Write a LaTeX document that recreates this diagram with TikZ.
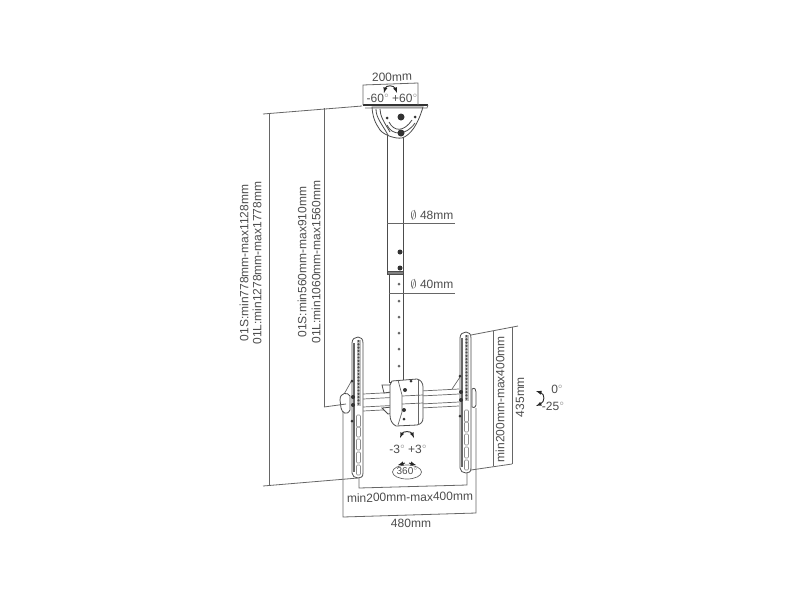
\documentclass[tikz,border=0pt]{standalone}
\usepackage{fontspec}
\setmainfont{Liberation Sans}
\newcommand{\dg}{\textcolor{black!35}{°}}
\begin{document}
\begin{tikzpicture}[x=1pt, y=-1pt]
	\tikzset{
		trait/.style={draw=black!60, line width=0.7pt},
		cote/.style={draw=black!60, line width=0.8pt},
		piece/.style={draw=black!70, line width=0.8pt, fill=white},
		trou/.style={circle, fill=black!80, inner sep=0pt},
		etiq/.style={text=black!70, font=\fontsize{12}{12}\selectfont, inner sep=0pt},
		vert/.style={etiq, rotate=90},
		fleche/.style={draw=black!85, line width=0.9pt, >=latex, ->}
	}
	\useasboundingbox (0,0) rectangle (800,600);

	% tubes
	\draw[piece] (389,272) rectangle (403,382);
	\draw[piece] (387,125) rectangle (403,272);
	\draw[draw=black!70, fill=black!50] (387,271) rectangle (403,274);
	\node[trou, minimum size=5pt] (p1) at (400,252) {};
	\node[trou, minimum size=5pt] (p2) at (400,268) {};
	\foreach \y in {284,301,317,333,349,366}
		\node[trou, fill=black!60, minimum size=3pt] at (399,\y) {};

	% ceiling plate
	\draw[piece] (372,107) .. controls (373,122) and (378,126) .. (380,130)
		.. controls (384,135) and (395,139) .. (402,138)
		.. controls (411,135) and (418,124) .. (423,107) -- cycle;
	\draw[piece] (376,109) .. controls (376,118) and (382,124) .. (388,135);
	\draw[piece] (380,109) .. controls (380,116) and (384,122) .. (390,132);
	\draw[draw=black!70, line width=0.8pt] (387,125) .. controls (392,136) and (406,136) .. (415,123);
	\draw[draw=black!70, line width=0.8pt] (389,122) .. controls (394,132) and (404,132) .. (412,120);
	\draw[draw=black!80, line width=1.3pt] (363,105) -- (428,105);
	\draw[trait] (365,108) -- (427,108) -- (428,105);
	\node[trou, minimum size=7pt] (axe1) at (401,117) {};
	\node[trou, minimum size=7pt] (axe2) at (401,133) {};
	\node[trou, minimum size=3pt] at (387,118) {};
	\node[trou, minimum size=3pt] at (415,117) {};

	% cross bar
	\draw[trait] (363,394) -- (459,389);
	\draw[trait] (363,399) -- (459,394);
	\draw[trait] (363,407) -- (459,402);
	\draw[trait] (363,411) -- (459,406);

	% tilt brackets
	\draw[trait] (343,396) -- (352,380);
	\draw[trait] (452,389) -- (460,377);
	\draw[piece] (340,400) .. controls (340,392) and (348,392) .. (350,396)
		-- (350,410) .. controls (347,416) and (342,413) .. (341,408) -- cycle;
	\draw[piece] (472,389) .. controls (475,387) and (476,390) .. (476,392)
		-- (476,405) .. controls (475,408) and (473,408) .. (472,407) -- cycle;

	% vertical bars
	\foreach \dx/\dy in {0/0,108/-5} {
		\begin{scope}[shift={(\dx,\dy)}]
			\draw[piece] (352,343) .. controls (352,339) and (355,337) .. (358,337)
				.. controls (361,337) and (363,339) .. (363,343)
				-- (363,473) .. controls (363,477) and (361,478) .. (358,478)
				.. controls (355,478) and (352,476) .. (352,473) -- cycle;
			\fill[black!60] (352.5,343) rectangle (355,472);
			\fill[black!25] (356.5,340) rectangle (360.5,406);
			\foreach \n in {0,...,19}
				\fill[black!70] (358.5,{341+\n*3.3}) circle (1.2pt);
			\foreach \y/\z in {415/427,427/437,439/450,452/463,465/475}
				\draw[draw=black!45, line width=0.6pt, rounded corners=1pt] (356.5,\y) rectangle (360.5,\z);
			\node[trou, minimum size=3pt] at (352,381) {};
			\node[trou, minimum size=4pt] at (353,397) {};
			\node[trou, minimum size=4pt] at (353,405) {};
			\node[trou, minimum size=3pt] at (352,421) {};
		\end{scope}
	}

	% centre clamp
	\draw[piece] (382,385) -- (391,385) -- (391,392) -- (384,393) -- cycle;
	\draw[piece] (382,408) -- (392,407) -- (394,413) -- (388,414) -- cycle;
	\draw[piece] (392,381) -- (417,379) .. controls (421,380) and (423,383) .. (423,387)
		-- (423,418) .. controls (423,422) and (421,424) .. (417,425)
		-- (396,426) .. controls (392,424) and (390,420) .. (390,415)
		-- (390,385) -- cycle;
	\draw[trait] (398,380) -- (402,395) -- (402,412) -- (398,425);
	\draw[trait] (402,396) -- (423,395);
	\draw[trait] (402,404) -- (423,403);
	\draw[trait] (418,379) -- (418,425);
	\node[trou, minimum size=3pt] at (411,381) {};
	\node[trou, minimum size=4pt] at (405,390) {};
	\node[trou, minimum size=4pt] at (404,410) {};
	\node[trou, minimum size=3pt] at (404,419) {};

	% dimension points
	\coordinate (ha) at (263,114);
	\coordinate (hb) at (362,106);
	\coordinate (h1) at (269,114);
	\coordinate (h2) at (324,108);
	\coordinate (b1) at (269,485);
	\coordinate (b2) at (324,407);
	\coordinate (bl1) at (263,486);
	\coordinate (bl2) at (358,478);
	\coordinate (bm) at (346,404);
	\coordinate (ta) at (363,85);
	\coordinate (tb) at (363,105);
	\coordinate (tc) at (418,83);
	\coordinate (td) at (418,105);
	\coordinate (d1) at (387,223);
	\coordinate (d2) at (455,223);
	\coordinate (e1) at (389,293);
	\coordinate (e2) at (455,293);
	\coordinate (ra) at (471,335);
	\coordinate (rb) at (518,326);
	\coordinate (rc) at (471,470);
	\coordinate (rd) at (512,464);
	\coordinate (r1) at (493,331);
	\coordinate (r2) at (493,466);
	\coordinate (r3) at (512,327);
	\coordinate (m1) at (359,478);
	\coordinate (m2) at (359,488);
	\coordinate (m3) at (467,485);
	\coordinate (m4) at (467,473);
	\coordinate (w1) at (343,411);
	\coordinate (w2) at (343,517);
	\coordinate (w3) at (476,513);
	\coordinate (w4) at (476,408);

	\draw[cote] (ha) -- (hb);
	\draw[cote] (h1) -- (b1);
	\draw[cote] (h2) -- (b2);
	\draw[cote] (bl1) -- (bl2);
	\draw[cote] (b2) -- (bm);
	\draw[cote] (tb) -- (ta) -- (tc) -- (td);
	\draw[cote] (d1) -- (d2);
	\draw[cote] (e1) -- (e2);
	\draw[cote] (ra) -- (rb);
	\draw[cote] (rc) -- (rd);
	\draw[cote] (r1) -- (r2);
	\draw[cote] (r3) -- (rd);
	\draw[cote] (m1) -- (m2) -- (m3) -- (m4);
	\draw[cote] (w1) -- (w2) -- (w3) -- (w4);

	% labels
	\node[vert] (l1) at (244,263) {01S:min778mm-max1128mm};
	\node[vert] (l2) at (257,263) {01L:min1278mm-max1778mm};
	\node[vert] (l3) at (302,262) {01S:min560mm-max910mm};
	\node[vert] (l4) at (316,262) {01L:min1060mm-max1560mm};
	\node[vert] (l5) at (500,399) {min200mm-max400mm};
	\node[vert] (l6) at (520,397) {435mm};
	\node[etiq, rotate=1.5] (l7) at (392,77) {200mm};
	\node[etiq] (l8) at (392,98) {-60\dg{} +60\dg};
	\node[etiq] (l9) at (432,215) {$\emptyset$ 48mm};
	\node[etiq] (l10) at (432,284) {$\emptyset$ 40mm};
	\node[etiq, rotate=1] (l11) at (410,497) {min200mm-max400mm};
	\node[etiq] (l12) at (411,523) {480mm};
	\node[etiq] (l13) at (408,449) {-3\dg{} +3\dg};
	\node[etiq, font=\fontsize{10}{10}\selectfont] (l14) at (407,471) {360\dg};
	\node[etiq] (l15) at (557,389) {0\dg};
	\node[etiq] (l16) at (553,406) {-25\dg};

	% rotation marks
	\draw[fleche, <->] (384,93) .. controls (386,85) and (394,85) .. (397,93);
	\draw[fleche, <->] (400,438) .. controls (403,431) and (411,431) .. (414,438);
	\draw[fleche, <->] (536,391) .. controls (545,394) and (545,402) .. (536,406);
	\draw[trait] (407,472) ellipse (14.5pt and 7pt);
	\draw[fleche] (405,463) -- (398,465);
	\draw[fleche] (409,463) -- (416,465);
\end{tikzpicture}
\end{document}
